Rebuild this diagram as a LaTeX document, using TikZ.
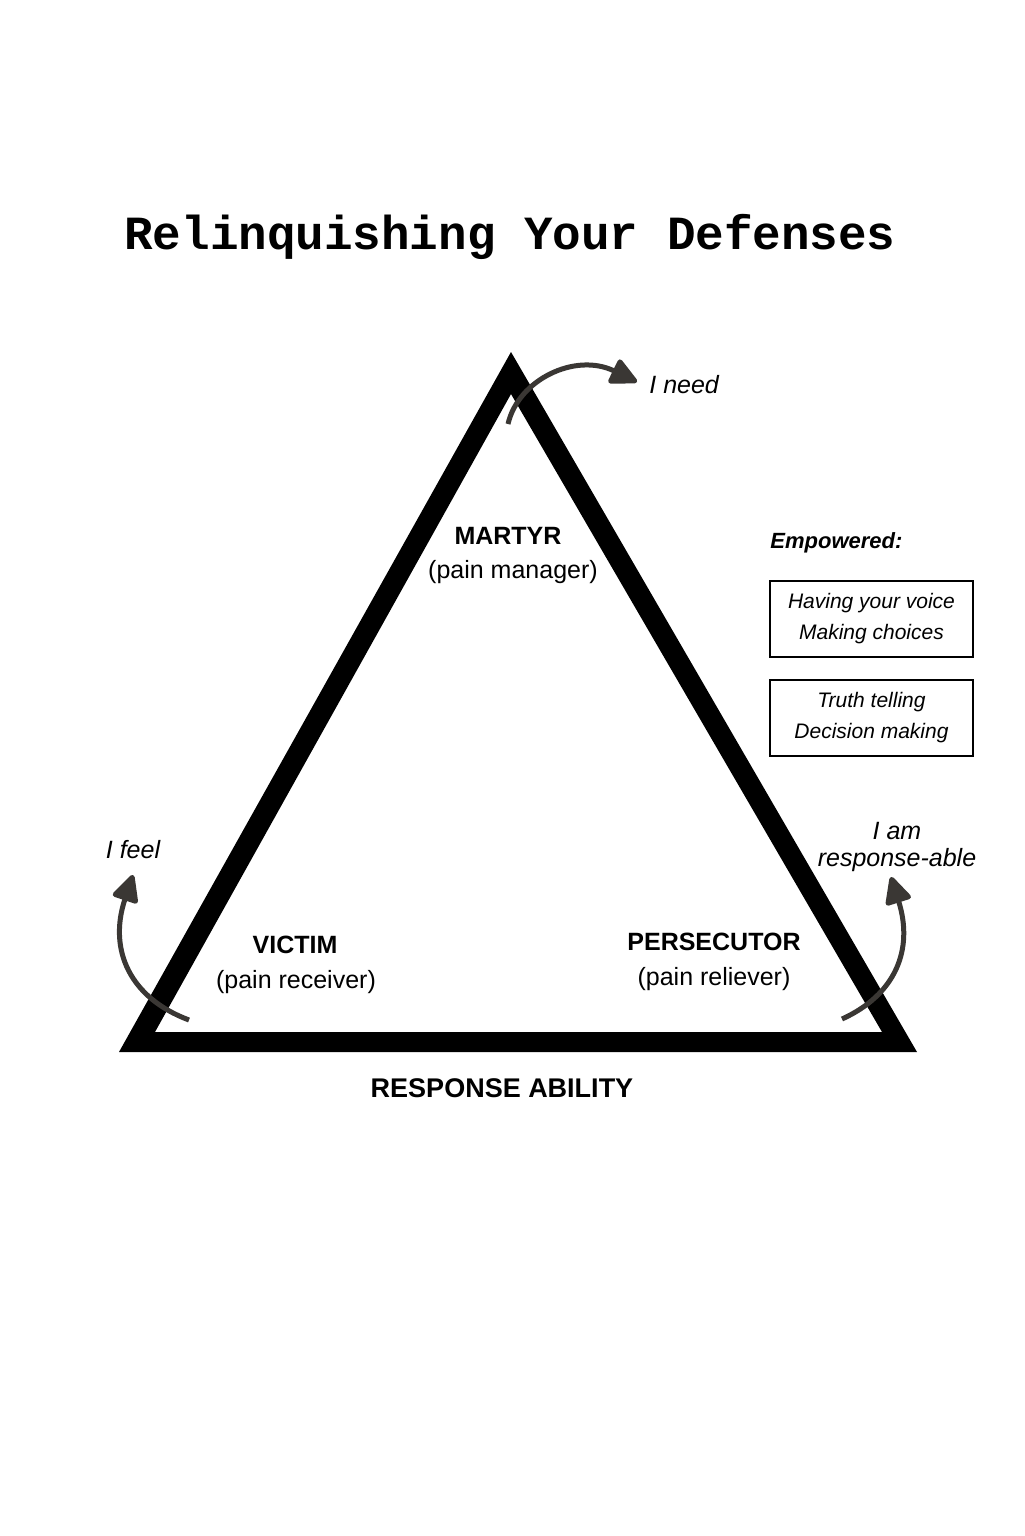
\documentclass[tikz,border=0pt]{standalone}
\usepackage{fontspec}
\setmainfont{Liberation Sans}
\newfontfamily\titlefont{Liberation Mono}
\usetikzlibrary{arrows.meta}
\definecolor{ArrowGray}{HTML}{3A3734}

\begin{document}
\begin{tikzpicture}[x=0.5pt, y=-0.5pt,
    role/.style={font=\fontsize{12.5}{14}\selectfont\bfseries, inner sep=0pt},
    sub/.style={font=\fontsize{12.5}{14}\selectfont, inner sep=0pt},
    say/.style={font=\fontsize{12.5}{13.5}\selectfont\itshape, align=center, inner sep=0pt},
    power/.style={draw, line width=1.3pt, minimum width=101.5pt, minimum height=38pt,
                  align=center, font=\fontsize{10.5}{15.5}\selectfont\itshape},
    curvearrow/.style={ArrowGray, line width=2.5pt, -{Triangle[length=15pt, width=14pt, round]}}]

    \useasboundingbox (0,0) rectangle (1024,1536);
    \fill[white] (0,0) rectangle (1024,1536);

    \node[font=\titlefont\bfseries\fontsize{23.8}{28}\selectfont] (title) at (510,237) {Relinquishing Your Defenses};

    % the triangle
    \coordinate (apex)  at (511,352);
    \coordinate (left)  at (119,1052);
    \coordinate (right) at (917,1052);
    \fill[even odd rule] (apex) -- (left) -- (right) -- cycle
                         (511,394) -- (155,1032) -- (882,1032) -- cycle;

    \node[role] (martyr)   at (508,536)  {MARTYR};
    \node[sub]  (martyrs)  at (513,572)  {(pain manager)};
    \node[role] (victim)   at (295,945)  {VICTIM};
    \node[sub]  (victims)  at (296,982)  {(pain receiver)};
    \node[role] (persec)   at (714,942)  {PERSECUTOR};
    \node[sub]  (persecs)  at (714,979)  {(pain reliever)};
    \node[role, font=\fontsize{13.5}{15}\selectfont\bfseries] (ability) at (502,1088) {RESPONSE ABILITY};

    \node[say, anchor=west] (need) at (649,385) {I need};
    \node[say] (feel) at (133,850) {I feel};
    \node[say] (able) at (897,847) {I am\\response-able};

    \node[font=\fontsize{11}{13}\selectfont\bfseries\itshape, anchor=west, inner sep=0pt] (empow) at (770,543) {Empowered:};
    \node[power] (voice)  at (871.5,619) {Having your voice\\Making choices};
    \node[power] (truth)  at (871.5,718) {Truth telling\\Decision making};

    % curved arrows
    \coordinate (needfrom)  at (508,424);
    \coordinate (needto)    at (637,382);
    \coordinate (feelfrom)  at (189,1020);
    \coordinate (feelto)    at (133,875);
    \coordinate (ablefrom)  at (842,1019);
    \coordinate (ableto)    at (891,877);
    \draw[curvearrow] (needfrom) .. controls (518,380) and (575,352) .. (needto);
    \draw[curvearrow] (feelfrom) .. controls (130,998) and (108,950) .. (feelto);
    \draw[curvearrow] (ablefrom) .. controls (895,995) and (914,950) .. (ableto);
\end{tikzpicture}
\end{document}
